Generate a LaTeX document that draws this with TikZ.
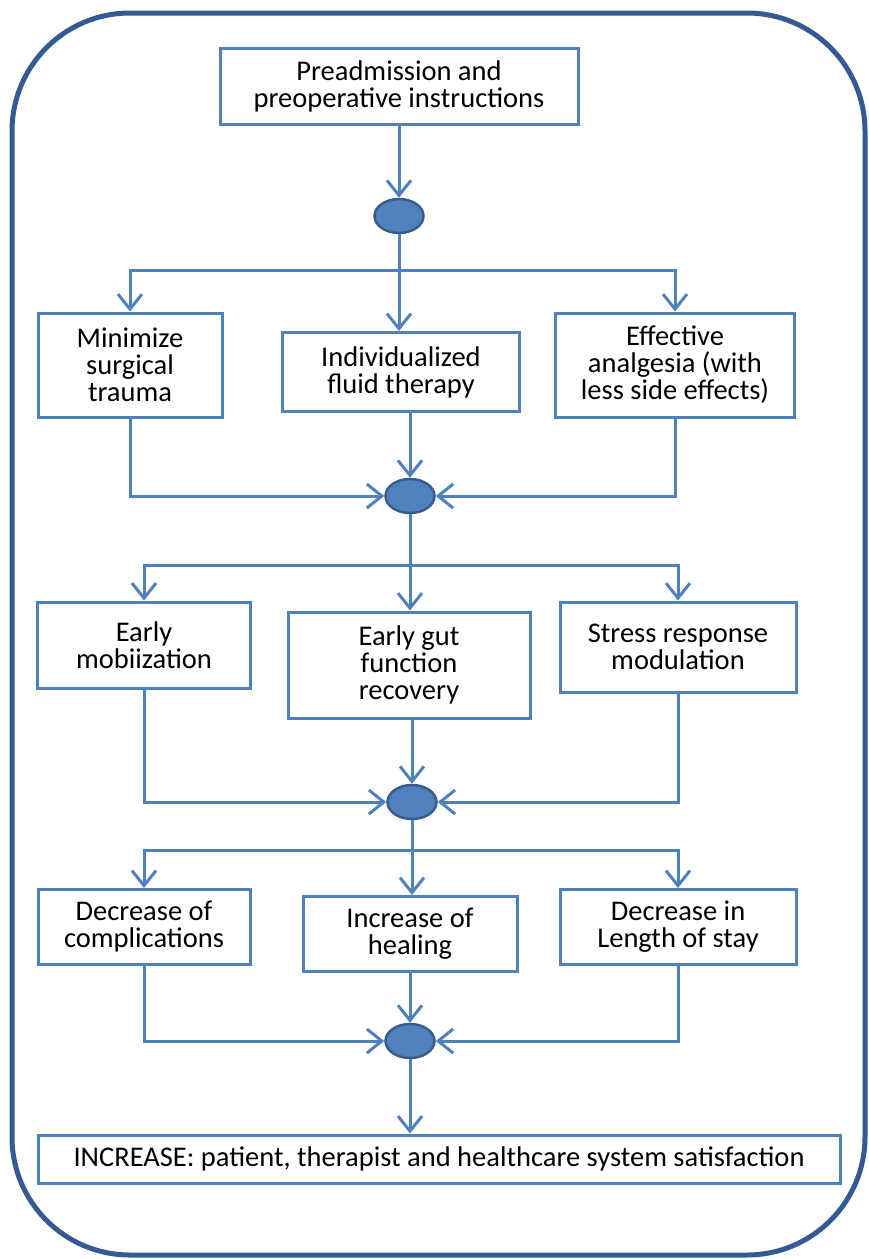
\documentclass[tikz,border=0pt]{standalone}
\usepackage{fontspec}
\setmainfont{Carlito}
\usepackage{xcolor}
\usetikzlibrary{arrows.meta,shapes.geometric}
\definecolor{boxblue}{HTML}{4F81BD}
\definecolor{rimblue}{HTML}{335A92}
\definecolor{dotedge}{HTML}{385D8A}

\begin{document}
\begin{tikzpicture}[x=1pt,y=-1pt,
    box/.style={draw=boxblue,line width=3pt,align=center,inner sep=0pt,
        font=\fontsize{28.5}{27}\selectfont},
    dot/.style={ellipse,draw=dotedge,fill=boxblue,line width=2.5pt,
        minimum width=49pt,minimum height=34pt,inner sep=0pt},
    link/.style={draw=boxblue,line width=3pt,
        -{Straight Barb[length=15pt,width=24pt,line width=3pt]}},
    wire/.style={draw=boxblue,line width=3pt}]
    \useasboundingbox (0,0) rectangle (868,1259);
    \draw[rimblue,line width=5pt,rounded corners=118pt](12,13) rectangle (865,1255);
    % boxes
    \node[box,minimum width=358pt,minimum height=76pt] (pre) at (399,86) {Preadmission and\\preoperative instructions};
    \node[box,minimum width=184pt,minimum height=104pt] (trauma) at (130,365) {Minimize\\surgical\\trauma};
    \node[box,minimum width=237pt,minimum height=79pt] (fluid) at (401,372) {Individualized\\fluid therapy};
    \node[box,minimum width=239pt,minimum height=104pt] (analg) at (675,365) {Effective\\analgesia (with\\less side effects)};
    \node[box,minimum width=213pt,minimum height=86pt] (mobil) at (144,645) {Early\\mobiization};
    \node[box,minimum width=242pt,minimum height=106pt] (gut) at (409,665) {Early gut\\function\\recovery};
    \node[box,minimum width=236pt,minimum height=90pt] (stress) at (678,647) {Stress response\\modulation};
    \node[box,minimum width=212pt,minimum height=75pt] (compl) at (144,927) {Decrease of\\complications};
    \node[box,minimum width=214pt,minimum height=75pt] (heal) at (410,934) {Increase of\\healing};
    \node[box,minimum width=236pt,minimum height=75pt] (stay) at (678,927) {Decrease in\\Length of stay};
    \node[box,minimum width=802pt,minimum height=48pt] (satis) at (439,1159) {INCREASE: patient, therapist and healthcare system satisfaction};
    % junction dots
    \node[dot] (j1) at (399,216) {};
    \node[dot] (j2) at (410,496) {};
    \node[dot] (j3) at (412,802) {};
    \node[dot] (j4) at (410,1041) {};
    % first level
    \draw[link](pre)--(j1);
    \coordinate (s1) at (399,270);
    \draw[wire](j1)--(s1);
    \draw[link](s1)-|(trauma.north);
    \draw[link](s1)-|(analg.north);
    \draw[link](s1)--(s1|-fluid.north);
    % merge into second dot
    \draw[link](trauma.south)|-(j2.west);
    \draw[link](analg.south)|-(j2.east);
    \draw[link](j2|-fluid.south)--(j2.north);
    % second level
    \coordinate (s2) at (410,565);
    \draw[wire](j2)--(s2);
    \draw[link](s2)-|(mobil.north);
    \draw[link](s2)-|(stress.north);
    \draw[link](s2)--(s2|-gut.north);
    \draw[link](mobil.south)|-(j3.west);
    \draw[link](stress.south)|-(j3.east);
    \draw[link](j3|-gut.south)--(j3.north);
    % third level
    \coordinate (s3) at (412,850);
    \draw[wire](j3)--(s3);
    \draw[link](s3)-|(compl.north);
    \draw[link](s3)-|(stay.north);
    \draw[link](s3)--(s3|-heal.north);
    \draw[link](compl.south)|-(j4.west);
    \draw[link](stay.south)|-(j4.east);
    \draw[link](heal.south)--(j4.north);
    \draw[link](j4)--(j4|-satis.north);
\end{tikzpicture}
\end{document}
